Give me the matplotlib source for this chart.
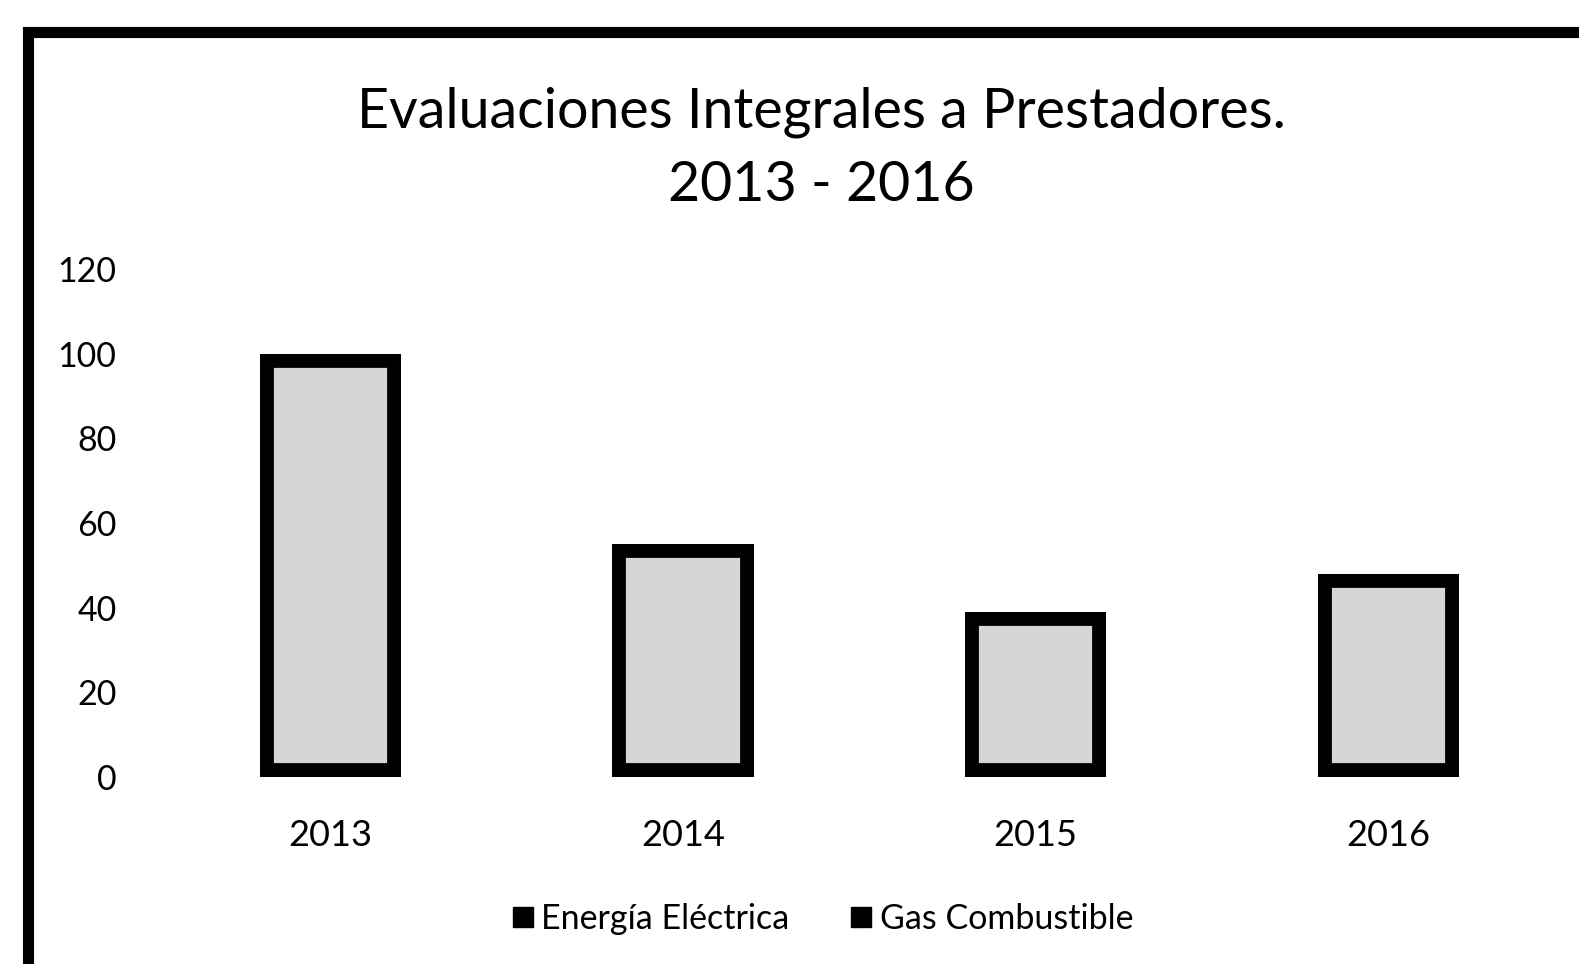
import matplotlib.pyplot as plt
from matplotlib.lines import Line2D
from matplotlib.patches import Rectangle

plt.rcParams['font.family'] = ['Lato', 'DejaVu Sans']

years = ["2013", "2014", "2015", "2016"]
energia = [100, 55, 39, 48]
series_names = ["Energía Eléctrica", "Gas Combustible"]
yticks = [0, 20, 40, 60, 80, 100, 120]

fig = plt.figure(figsize=(15.79, 9.64), dpi=100)
ax = fig.add_axes([0.0975, 0.194, 0.8935, 0.527])

x = range(len(years))
bars = ax.bar(x, energia, width=0.4, color="#d6d6d6", edgecolor="black", linewidth=20)
# keep the thick border inside each bar, like the original
for b in bars:
    b.set_clip_path(b)

ax.set_xlim(-0.5, 3.5)
ax.set_ylim(0, 120)
ax.set_yticks(yticks)
ax.set_xticks(list(x))
ax.set_xticklabels(years)
ax.tick_params(axis="both", length=0)
ax.tick_params(axis="y", pad=27, labelsize=24.5)
ax.tick_params(axis="x", pad=30, labelsize=26)
for s in ax.spines.values():
    s.set_visible(False)

fig.text(0.52, 0.884, "Evaluaciones Integrales a Prestadores.", ha="center", va="center", fontsize=40)
fig.text(0.52, 0.808, "2013 - 2016", ha="center", va="center", fontsize=40)

handles = [Line2D([], [], marker="s", color="black", linestyle="none", markersize=14)
           for _ in series_names]
fig.legend(handles, series_names, loc="center", bbox_to_anchor=(0.52, 0.047), ncol=2,
           frameon=False, fontsize=24.5, handlelength=0.8, handletextpad=0.15,
           columnspacing=1.7)

# outer chart frame (cut off at right and bottom in the scan)
fig.patches.append(Rectangle((0.0177, -0.1), 1.1, 1.067, transform=fig.transFigure,
                             fill=False, edgecolor="black", linewidth=8))

fig.savefig("out.png", dpi=100)
